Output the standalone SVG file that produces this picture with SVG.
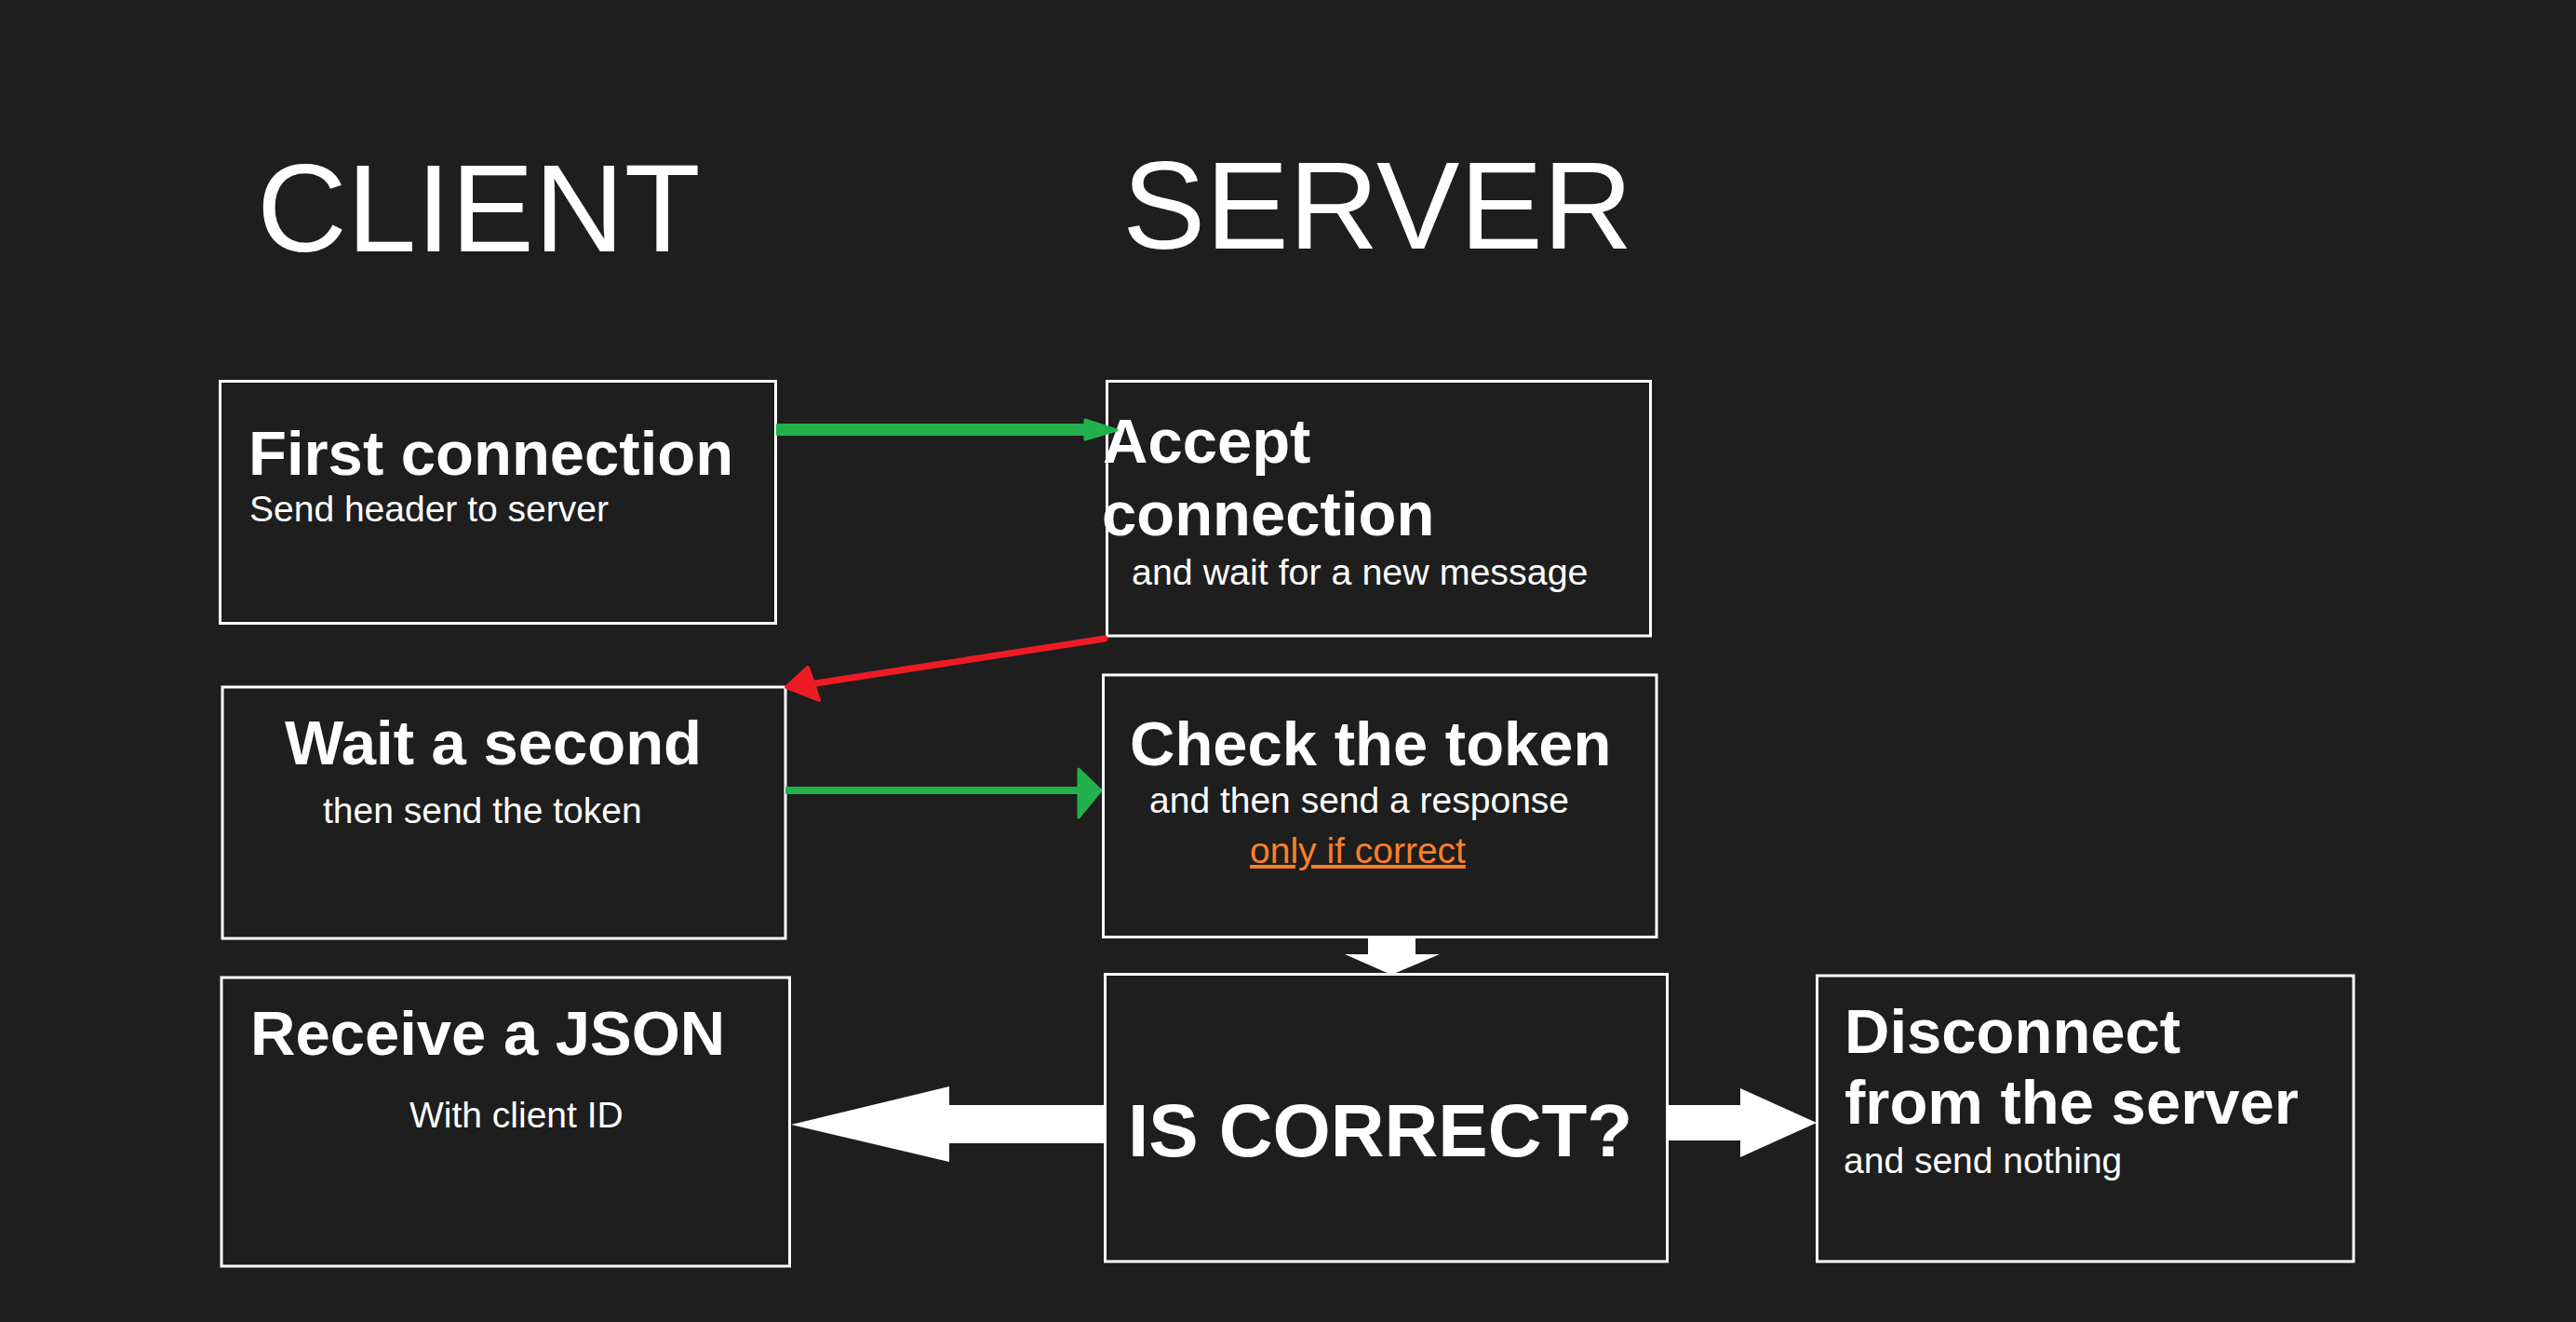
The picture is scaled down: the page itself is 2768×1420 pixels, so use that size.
<svg xmlns="http://www.w3.org/2000/svg" width="2768" height="1420" viewBox="0 0 2768 1420">
<style>
.box{fill:#1e1e1e;stroke:#ffffff;stroke-width:3}
.t{font-family:"Liberation Sans",Arial,sans-serif;fill:#ffffff}
.h{font-size:134px}
.b{font-size:67px;font-weight:bold}
.s{font-size:39px}
.q{font-size:80px;font-weight:bold}
.o{fill:#ff7f27;text-decoration:underline}
.g{stroke:#22b14c;fill:none}
.gh{fill:#22b14c;stroke:#22b14c;stroke-width:3;stroke-linejoin:round}
.r{stroke:#ed1c24;fill:none;stroke-width:7;stroke-linecap:round}
.rh{fill:#ed1c24;stroke:#ed1c24;stroke-width:4;stroke-linejoin:round}
.w{fill:#ffffff}
</style>
<rect x="0" y="0" width="2768" height="1420" fill="#1e1e1e"/>
<text class="t h" x="276" y="270">CLIENT</text>
<text class="t h" x="1206" y="267">SERVER</text>

<g id="first-connection">
<rect class="box" x="236.5" y="409.5" width="597" height="260"/>
<text class="t b" x="267" y="510">First connection</text>
<text class="t s" x="268" y="560">Send header to server</text>
</g>
<g id="accept-connection">
<rect class="box" x="1189.5" y="409.5" width="584" height="273.5"/>
<text class="t b" x="1185" y="497">Accept</text>
<text class="t b" x="1184" y="575">connection</text>
<text class="t s" x="1216" y="628" style="font-size:39.4px">and wait for a new message</text>
</g>
<g id="wait-a-second">
<rect class="box" x="239" y="738" width="605" height="270"/>
<text class="t b" x="306" y="821">Wait a second</text>
<text class="t s" x="347" y="884">then send the token</text>
</g>
<g id="check-the-token">
<rect class="box" x="1185.5" y="725" width="594.5" height="281.5"/>
<text class="t b" x="1214" y="822">Check the token</text>
<text class="t s" x="1235" y="873">and then send a response</text>
<text class="t s o" x="1343" y="927">only if correct</text>
</g>
<g id="is-correct">
<rect class="box" x="1187.5" y="1046.5" width="604" height="308.5"/>
<text class="t q" x="1212" y="1242">IS CORRECT?</text>
</g>
<g id="receive-json">
<rect class="box" x="238" y="1050" width="610.5" height="310"/>
<text class="t b" x="269" y="1133">Receive a JSON</text>
<text class="t s" x="440" y="1211">With client ID</text>
</g>
<g id="disconnect">
<rect class="box" x="1952.5" y="1048" width="576.5" height="307"/>
<text class="t b" x="1982" y="1131">Disconnect</text>
<text class="t b" x="1982" y="1207">from the server</text>
<text class="t s" x="1981" y="1260">and send nothing</text>
</g>

<g id="connectors">
<line class="g" x1="834" y1="461.5" x2="1170" y2="461.5" stroke-width="13"/>
<polygon class="gh" points="1166,451 1200,462 1166,472"/>
<line class="r" x1="1187" y1="686" x2="870" y2="735"/>
<polygon class="rh" points="845,738 868,717 880,752"/>
<line class="g" x1="844" y1="849" x2="1162" y2="849" stroke-width="8"/>
<polygon class="gh" points="1159,826 1183,849 1159,878"/>
<polygon class="w" points="1470,1007 1521,1007 1521,1025 1547,1025 1495,1047 1445,1025 1470,1025"/>
<polygon class="w" points="1187,1187 1020,1187 1020,1167 850,1208 1020,1248 1020,1228 1187,1228"/>
<polygon class="w" points="1793,1187 1870,1187 1870,1169 1952,1206 1870,1243 1870,1225 1793,1225"/>
</g>
</svg>
